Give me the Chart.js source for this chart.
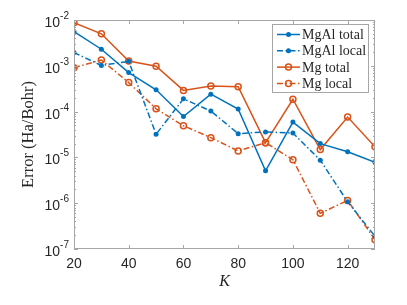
<!DOCTYPE html>
<html>
<head>
<meta charset="utf-8">
<script src="https://cdn.jsdelivr.net/npm/chart.js@4"></script>
<style>
  html, body { margin: 0; padding: 0; background: #fff; }
  #wrap { width: 407px; height: 305px; }
</style>
</head>
<body>
<div id="wrap"><canvas id="errChart" width="407" height="305"></canvas></div>
<script>
  const K = [20, 30, 40, 50, 60, 70, 80, 90, 100, 110, 120, 130];
  const mgalTotal = [5.6e-3, 2.3e-3, 7.1e-4, 3.0e-4, 7.8e-5, 2.4e-4, 1.14e-4, 5.1e-6, 5.9e-5, 2.0e-5, 1.33e-5, 7.8e-6];
  const mgalLocal = [1.94e-3, 1.02e-3, 1.25e-3, 3.2e-5, 1.9e-4, 1.03e-4, 3.3e-5, 3.6e-5, 3.4e-5, 8.7e-6, 1.07e-6, 1.9e-7];
  const mgTotal = [8.7e-3, 5.0e-3, 1.27e-3, 9.8e-4, 2.9e-4, 3.6e-4, 3.5e-4, 2.1e-5, 1.86e-4, 1.48e-5, 7.6e-5, 1.7e-5];
  const mgLocal = [9.1e-4, 1.34e-3, 4.3e-4, 1.15e-4, 4.9e-5, 2.7e-5, 1.38e-5, 2.1e-5, 8.9e-6, 6.0e-7, 1.15e-6, 1.6e-7];

  const xTicks = [20, 40, 60, 80, 100, 120];
  const yExponents = [-2, -3, -4, -5, -6, -7];

  const BLUE = "#0072bd";
  const ORANGE = "#d95319";
  const AXIS = "#a6a6a6";
  const TEXT = "#262626";
  const DASHDOT = [6, 2.5, 1.5, 2.5];

  const pts = (vals) => K.map((k, i) => ({ x: k, y: vals[i] }));

  const series = [
    { label: "MgAl total", data: pts(mgalTotal), color: BLUE, dash: [], open: false },
    { label: "MgAl local", data: pts(mgalLocal), color: BLUE, dash: DASHDOT, open: false },
    { label: "Mg total", data: pts(mgTotal), color: ORANGE, dash: [], open: true },
    { label: "Mg local", data: pts(mgLocal), color: ORANGE, dash: DASHDOT, open: true },
  ];

  // matlab-ish axes: box, inward ticks, 10^n labels, inset legend
  const axesPlugin = {
    id: "axesPlugin",
    afterDraw(chart) {
      const { ctx, chartArea: a, scales } = chart;
      const xs = scales.x, ys = scales.y;
      ctx.save();

      ctx.strokeStyle = AXIS;
      ctx.lineWidth = 1;
      ctx.strokeRect(a.left + 0.5, a.top + 0.5, a.right - a.left - 1, a.bottom - a.top - 1);

      ctx.beginPath();
      xTicks.forEach((v) => {
        const px = Math.round(xs.getPixelForValue(v)) + 0.5;
        ctx.moveTo(px, a.bottom); ctx.lineTo(px, a.bottom - 4);
        ctx.moveTo(px, a.top); ctx.lineTo(px, a.top + 4);
      });
      yExponents.forEach((e) => {
        for (let m = 1; m <= 9; m++) {
          const v = m * Math.pow(10, e);
          if (v > 1e-2 + 1e-12) continue;
          const py = Math.round(ys.getPixelForValue(v)) + 0.5;
          const len = m === 1 ? 4 : 2;
          ctx.moveTo(a.left, py); ctx.lineTo(a.left + len, py);
          ctx.moveTo(a.right, py); ctx.lineTo(a.right - len, py);
        }
      });
      ctx.stroke();

      ctx.fillStyle = TEXT;
      ctx.font = "14px 'Liberation Sans', Arial, sans-serif";
      ctx.textAlign = "center";
      ctx.textBaseline = "alphabetic";
      xTicks.forEach((v) => {
        ctx.fillText(String(v), xs.getPixelForValue(v), a.bottom + 19);
      });

      yExponents.forEach((e) => {
        const py = ys.getPixelForValue(Math.pow(10, e));
        const sup = "-" + Math.abs(e);
        ctx.font = "10px 'Liberation Sans', Arial, sans-serif";
        const supW = ctx.measureText(sup).width;
        ctx.textAlign = "right";
        const right = a.left - 5;
        ctx.fillText(sup, right, py - 1);
        ctx.font = "14px 'Liberation Sans', Arial, sans-serif";
        ctx.fillText("10", right - supW, py + 7);
      });

      ctx.textAlign = "center";
      ctx.font = "italic 16px 'Liberation Serif', 'Times New Roman', serif";
      ctx.fillText("K", (a.left + a.right) / 2, a.bottom + 37);

      ctx.save();
      ctx.translate(33, (a.top + a.bottom) / 2);
      ctx.rotate(-Math.PI / 2);
      ctx.font = "16.5px 'Liberation Serif', 'Times New Roman', serif";
      ctx.fillText("Error (Ha/Bohr)", 0, 0);
      ctx.restore();

      // legend
      const lx = 272, ly = 24, lw = 96, lh = 68;
      ctx.fillStyle = "#fff";
      ctx.fillRect(lx, ly, lw, lh);
      ctx.strokeStyle = AXIS;
      ctx.strokeRect(lx + 0.5, ly + 0.5, lw, lh);
      ctx.font = "14px 'Liberation Serif', 'Times New Roman', serif";
      ctx.textAlign = "left";
      series.forEach((s, i) => {
        const y = ly + 10.5 + i * 16.3;
        ctx.strokeStyle = s.color;
        ctx.lineWidth = 1.5;
        ctx.setLineDash(s.dash);
        ctx.beginPath(); ctx.moveTo(lx + 5, y); ctx.lineTo(lx + 28, y); ctx.stroke();
        ctx.setLineDash([]);
        ctx.beginPath();
        if (s.open) {
          ctx.arc(lx + 16.5, y, 3, 0, Math.PI * 2);
          ctx.stroke();
        } else {
          ctx.fillStyle = s.color;
          ctx.arc(lx + 16.5, y, 2.5, 0, Math.PI * 2);
          ctx.fill();
        }
        ctx.fillStyle = TEXT;
        ctx.fillText(s.label, lx + 30, y + 4.5);
      });

      ctx.restore();
    },
  };

  new Chart(document.getElementById("errChart"), {
    type: "line",
    data: {
      datasets: series.map((s, i) => ({
        label: s.label,
        data: s.data,
        borderColor: s.color,
        backgroundColor: s.color,
        borderWidth: 1.5,
        borderDash: s.dash,
        pointRadius: s.open ? 3 : 2.5,
        pointBorderWidth: s.open ? 1.5 : 0,
        pointBackgroundColor: s.open ? "rgba(0,0,0,0)" : s.color,
        pointBorderColor: s.color,
        tension: 0,
        order: i,
      })),
    },
    options: {
      responsive: false,
      animation: false,
      layout: { padding: { top: 20, right: 32, left: 0, bottom: 0 } },
      plugins: { legend: { display: false }, tooltip: { enabled: false } },
      scales: {
        x: {
          type: "linear",
          min: 20,
          max: 130,
          grid: { display: false },
          border: { display: false },
          ticks: { display: false, stepSize: 20 },
          afterFit: (s) => { s.height = 56; },
        },
        y: {
          type: "logarithmic",
          min: 1e-7,
          max: 1e-2,
          grid: { display: false },
          border: { display: false },
          ticks: { display: false },
          afterFit: (s) => { s.width = 74; },
        },
      },
    },
    plugins: [axesPlugin],
  });
</script>
</body>
</html>
